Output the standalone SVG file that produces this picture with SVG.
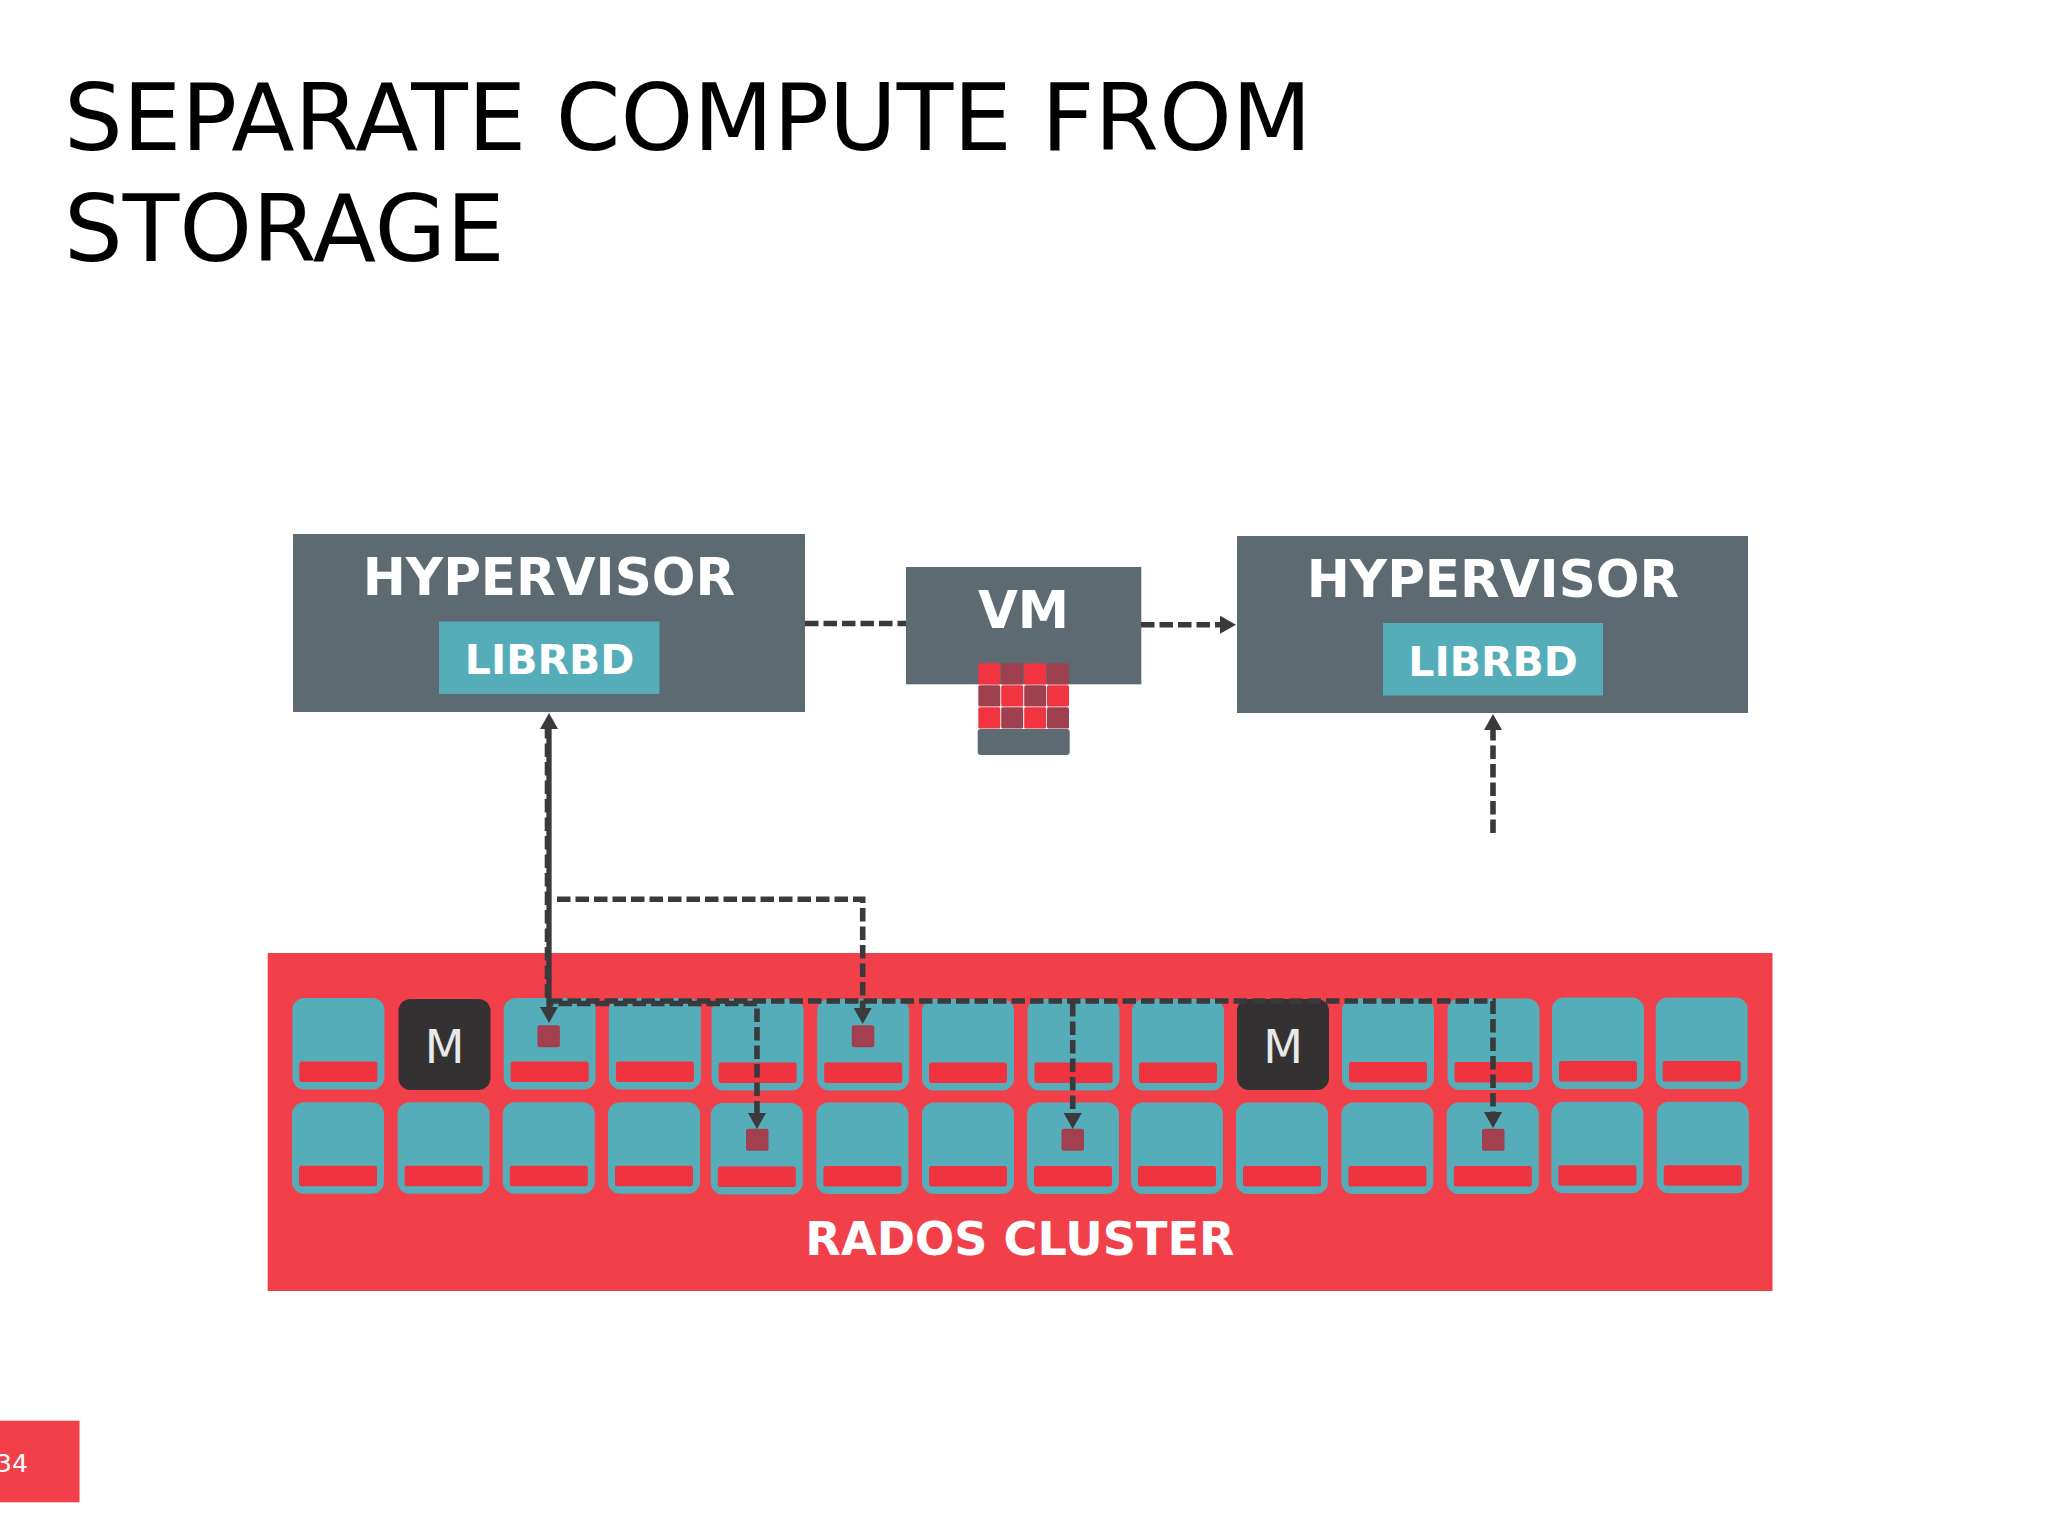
<svg xmlns="http://www.w3.org/2000/svg" width="2048" height="1535" viewBox="0 0 2048 1535">
<style>
text{font-family:"DejaVu Sans",sans-serif}
.title{font-size:92.6px;fill:#000}
.hv{font-size:51.5px;font-weight:700;fill:#fff;text-anchor:middle}
.lib{font-size:41px;font-weight:700;fill:#fff;text-anchor:middle}
.gray{fill:#5e6a71}
.teal{fill:#55adb9}
.cell{fill:#55adb9;width:92px;height:91.5px;rx:12px;ry:12px}
.bar{fill:#ef3440;x:7px;y:63.5px;width:78px;height:20.5px;rx:2.5px;ry:2.5px}
.mon{fill:#333132;width:92px;height:91px;rx:12px;ry:12px}
.m{font-size:46px;fill:#e8e8e8;text-anchor:middle}
.obj{fill:#a3404f;width:22.5px;height:22px;rx:2px;ry:2px}
.hi{fill:#f1343f;width:22px;height:21.3px;rx:1.5px;ry:1.5px}
.lo{fill:#9f404e;width:22px;height:21.3px;rx:1.5px;ry:1.5px}
.dash{fill:none;stroke:#3a3a3c;stroke-width:5.6px;stroke-dasharray:13.5 5}
.solid{fill:none;stroke:#3a3a3c;stroke-width:5.3px}
</style>
<defs>
<marker id="ah" viewBox="0 -9 16 18" refX="0" refY="0" markerWidth="16" markerHeight="18" markerUnits="userSpaceOnUse" orient="auto-start-reverse"><path d="M0 -9L16 0L0 9z" fill="#3a3a3c"/></marker>
</defs>
<rect width="2048" height="1535" fill="#fefefe"/>
<g id="title"><text class="title" x="64" y="150">SEPARATE COMPUTE FROM</text><text class="title" x="64" y="261">STORAGE</text></g>
<g id="hypervisor-left"><rect class="gray" x="293" y="534" width="512" height="178"/><text class="hv" x="549" y="595">HYPERVISOR</text><rect class="teal" x="439" y="621.5" width="220.5" height="72.5"/><text class="lib" x="549.5" y="674">LIBRBD</text></g>
<g id="hypervisor-right"><rect class="gray" x="1237" y="536" width="511" height="177"/><text class="hv" x="1493" y="597">HYPERVISOR</text><rect class="teal" x="1383" y="623" width="220" height="72.5"/><text class="lib" x="1493" y="676">LIBRBD</text></g>
<g id="vm"><rect class="gray" x="906" y="567" width="235.3" height="117.3"/><text class="hv" x="1023.5" y="628">VM</text>
<rect class="hi" x="978.3" y="663.3"/><rect class="lo" x="1001.2" y="663.3"/><rect class="hi" x="1024.2" y="663.3"/><rect class="lo" x="1047" y="663.3"/>
<rect class="lo" x="978.3" y="685.3"/><rect class="hi" x="1001.2" y="685.3"/><rect class="lo" x="1024.2" y="685.3"/><rect class="hi" x="1047" y="685.3"/>
<rect class="hi" x="978.3" y="707.2"/><rect class="lo" x="1001.2" y="707.2"/><rect class="hi" x="1024.2" y="707.2"/><rect class="lo" x="1047" y="707.2"/>
<rect class="gray" x="977.7" y="729" width="92" height="26" rx="3"/></g>
<g id="rados-cluster"><rect x="267.7" y="953" width="1504.8" height="338" fill="#f2404a"/><text x="1020" y="1255" font-size="46.2" font-weight="700" fill="#fff" text-anchor="middle">RADOS CLUSTER</text></g>
<g id="osd-r1">
<g id="osd-1-1" transform="translate(292.4 998)"><rect class="cell"/><rect class="bar"/></g>
<g id="mon-1" transform="translate(398.5 999)"><rect class="mon"/><text class="m" x="46" y="64">M</text></g>
<g id="osd-1-3" transform="translate(503.7 998)"><rect class="cell"/><rect class="bar"/></g>
<g id="osd-1-4" transform="translate(608.9 998)"><rect class="cell"/><rect class="bar"/></g>
<g id="osd-1-5" transform="translate(711.6 999)"><rect class="cell"/><rect class="bar"/></g>
<g id="osd-1-6" transform="translate(817.2 999)"><rect class="cell"/><rect class="bar"/></g>
<g id="osd-1-7" transform="translate(922 999)"><rect class="cell"/><rect class="bar"/></g>
<g id="osd-1-8" transform="translate(1027.5 999)"><rect class="cell"/><rect class="bar"/></g>
<g id="osd-1-9" transform="translate(1132 999)"><rect class="cell"/><rect class="bar"/></g>
<g id="mon-2" transform="translate(1237 999)"><rect class="mon"/><text class="m" x="46" y="64">M</text></g>
<g id="osd-1-11" transform="translate(1342 998.5)"><rect class="cell"/><rect class="bar"/></g>
<g id="osd-1-12" transform="translate(1447.5 998.5)"><rect class="cell"/><rect class="bar"/></g>
<g id="osd-1-13" transform="translate(1552 997.5)"><rect class="cell"/><rect class="bar"/></g>
<g id="osd-1-14" transform="translate(1655.7 997.5)"><rect class="cell"/><rect class="bar"/></g>
</g>
<g id="osd-r2">
<g id="osd-2-1" transform="translate(292 1102.3)"><rect class="cell"/><rect class="bar"/></g>
<g id="osd-2-2" transform="translate(397.6 1102.3)"><rect class="cell"/><rect class="bar"/></g>
<g id="osd-2-3" transform="translate(502.8 1102.3)"><rect class="cell"/><rect class="bar"/></g>
<g id="osd-2-4" transform="translate(608 1102.3)"><rect class="cell"/><rect class="bar"/></g>
<g id="osd-2-5" transform="translate(710.8 1103)"><rect class="cell"/><rect class="bar"/></g>
<g id="osd-2-6" transform="translate(816.4 1102.6)"><rect class="cell"/><rect class="bar"/></g>
<g id="osd-2-7" transform="translate(922 1102.6)"><rect class="cell"/><rect class="bar"/></g>
<g id="osd-2-8" transform="translate(1027 1102.6)"><rect class="cell"/><rect class="bar"/></g>
<g id="osd-2-9" transform="translate(1131 1102.6)"><rect class="cell"/><rect class="bar"/></g>
<g id="osd-2-10" transform="translate(1236 1102.6)"><rect class="cell"/><rect class="bar"/></g>
<g id="osd-2-11" transform="translate(1341.4 1102.6)"><rect class="cell"/><rect class="bar"/></g>
<g id="osd-2-12" transform="translate(1446.8 1102.6)"><rect class="cell"/><rect class="bar"/></g>
<g id="osd-2-13" transform="translate(1551.4 1101.7)"><rect class="cell"/><rect class="bar"/></g>
<g id="osd-2-14" transform="translate(1656.8 1101.7)"><rect class="cell"/><rect class="bar"/></g>
</g>
<g id="objects">
<rect class="obj" x="537.4" y="1025.3"/><rect class="obj" x="851.8" y="1025.3"/>
<rect class="obj" x="746" y="1128.7"/><rect class="obj" x="1061.5" y="1128.7"/><rect class="obj" x="1482" y="1128.7"/>
</g>
<g id="connectors">
<path class="dash" d="M805 623.5H906"/>
<path class="dash" d="M1141 624.7H1220" marker-end="url(#ah)"/>
<path class="dash" d="M1493 833V730" marker-end="url(#ah)"/>
<path class="dash" d="M547.5 725V1000"/>
<path class="dash" d="M557 899.3H862.7V1008" marker-end="url(#ah)"/>
<path class="dash" d="M549 1001H1493V1112" marker-end="url(#ah)"/>
<path class="dash" d="M549 1003.5H757V1113" stroke-dashoffset="9" marker-end="url(#ah)"/>
<path class="dash" d="M1072.7 1003V1113" marker-end="url(#ah)"/>
<path class="solid" d="M549 729V1007" marker-start="url(#ah)" marker-end="url(#ah)"/>
</g>
<g id="slide-number"><rect x="0" y="1420.7" width="79.5" height="81.6" fill="#f2404a"/><text x="-4" y="1471.7" font-size="25" fill="#fff">34</text></g>
</svg>
